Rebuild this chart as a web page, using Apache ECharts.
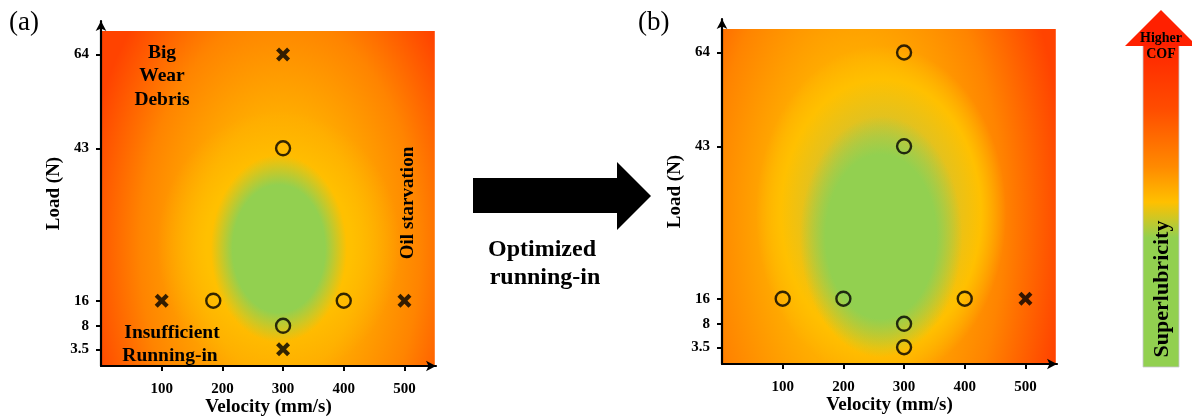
<!DOCTYPE html>
<html>
<head>
<meta charset="utf-8">
<script src="https://cdn.jsdelivr.net/npm/echarts@6/dist/echarts.min.js"></script>
<style>
  html, body { margin: 0; padding: 0; background: #fff; }
  #chart { width: 1192px; height: 416px; }
</style>
</head>
<body>
<div id="chart"></div>
<script>
// axis ticks
const velocityTicks = [100, 200, 300, 400, 500];
const loadValues = [3.5, 8, 16, 43, 64];
// load steps are not evenly spaced in the figure: axis level of each step
const loadLevels = [5, 12, 19.5, 65, 93];

// test points [velocity, load]
const beforeGood = [[300, 43], [185, 16], [400, 16], [300, 8]];
const beforeFail = [[300, 64], [100, 16], [500, 16], [300, 3.5]];
const afterGood = [[300, 64], [300, 43], [100, 16], [200, 16], [400, 16], [300, 8], [300, 3.5]];
const afterFail = [[500, 16]];

// COF map, as ellipses [velocity, level, velocity radius, level radius]
const beforeField = [295, 35.5, 330, 98];
const beforeHalo = [293, 36, 200, 40];
const beforeCore = [293, 35, 112, 28];
const afterField = [222, 43, 346, 120];
const afterHalo = [262, 45, 206, 50];
const afterCore = [262, 38, 134, 36];

const velocityMax = 550;
const levelMax = 100;

const serif = '"Liberation Serif", "Times New Roman", serif';
const chart = echarts.init(document.getElementById('chart'));

const level = v => loadLevels[loadValues.indexOf(v)];
const toPoints = arr => arr.map(p => [p[0], level(p[1])]);

const fieldStops = [
  { offset: 0, color: '#ffc000' },
  { offset: 0.4, color: '#ffac00' },
  { offset: 0.7, color: '#ff8400' },
  { offset: 1, color: '#ff4300' }
];
const haloStopsA = [
  { offset: 0, color: '#ffc000' },
  { offset: 0.6, color: '#ffc000' },
  { offset: 1, color: 'rgba(255,184,0,0)' }
];
const haloStopsB = [
  { offset: 0, color: '#c2c840' },
  { offset: 0.45, color: '#d2c330' },
  { offset: 0.8, color: '#ffc000' },
  { offset: 1, color: 'rgba(255,192,0,0)' }
];
const coreStops = [
  { offset: 0, color: '#92d050' },
  { offset: 0.68, color: '#92d050' },
  { offset: 1, color: 'rgba(146,208,80,0)' }
];

// rect over the whole map, filled with an elliptical radial gradient
function mapLayer(stops) {
  return function (params, api) {
    const p0 = api.coord([0, levelMax]);
    const p1 = api.coord([velocityMax, 0]);
    const left = p0[0], top = p0[1];
    const W = p1[0] - p0[0], H = p1[1] - p0[1];
    const c = api.coord([api.value(0), api.value(1)]);
    const sz = api.size([api.value(2) * 2, api.value(3) * 2]);
    const rx = sz[0] / 2, ry = sz[1] / 2;
    const sy = ry / rx;
    const hl = H / sy;
    const cyl = top + (c[1] - top) / sy;
    const m = Math.min(W, hl);
    return {
      type: 'rect',
      shape: { x: left, y: top, width: W, height: hl },
      originX: left,
      originY: top,
      scaleY: sy,
      style: {
        fill: new echarts.graphic.RadialGradient((c[0] - left) / W, (cyl - top) / hl, rx / m, stops)
      }
    };
  };
}

function velAxis(gi) {
  return {
    type: 'value', gridIndex: gi, min: 0, max: 552,
    name: 'Velocity (mm/s)', nameLocation: 'middle', nameGap: 32, nameMoveOverlap: false,
    nameTextStyle: { fontFamily: serif, fontWeight: 'bold', fontSize: 19, color: '#000' },
    axisLine: { show: true, onZero: false, symbol: ['none', 'arrow'], symbolSize: [8, 10], lineStyle: { color: '#000', width: 2.2 } },
    axisTick: { show: true, length: 5, customValues: velocityTicks, lineStyle: { color: '#000', width: 2 } },
    axisLabel: { customValues: velocityTicks, margin: 16, fontFamily: serif, fontWeight: 'bold', fontSize: 15, color: '#000' },
    splitLine: { show: false },
    z: 10
  };
}

function loadAxis(gi) {
  return {
    type: 'value', gridIndex: gi, min: 0, max: 103,
    name: 'Load (N)', nameLocation: 'middle', nameGap: 37, nameRotate: 90, nameMoveOverlap: false,
    nameTextStyle: { fontFamily: serif, fontWeight: 'bold', fontSize: 19, color: '#000' },
    axisLine: { show: true, onZero: false, symbol: ['none', 'arrow'], symbolSize: [8, 10], lineStyle: { color: '#000', width: 2.2 } },
    axisTick: { show: true, length: 5, customValues: loadLevels, lineStyle: { color: '#000', width: 2 } },
    axisLabel: {
      customValues: loadLevels, margin: 12, fontFamily: serif, fontWeight: 'bold', fontSize: 15, color: '#000',
      formatter: v => String(loadValues[loadLevels.indexOf(v)])
    },
    splitLine: { show: false },
    z: 10
  };
}

const crossPath = 'path://M0,3 L3,0 L7,4 L11,0 L14,3 L10,7 L14,11 L11,14 L7,10 L3,14 L0,11 L4,7 Z';

function goodSeries(gi, data) {
  return {
    type: 'scatter', xAxisIndex: gi, yAxisIndex: gi, symbol: 'circle', symbolSize: 14, z: 5,
    itemStyle: { color: 'rgba(0,0,0,0)', borderColor: '#000', borderWidth: 2.4 },
    data: toPoints(data)
  };
}
function failSeries(gi, data) {
  return {
    type: 'scatter', xAxisIndex: gi, yAxisIndex: gi, symbol: crossPath, symbolSize: 14, z: 5,
    itemStyle: { color: '#000' },
    data: toPoints(data)
  };
}
function layerSeries(gi, item, stops) {
  return {
    type: 'custom', xAxisIndex: gi, yAxisIndex: gi, silent: true, z: 1,
    renderItem: mapLayer(stops), data: [item]
  };
}

function arrow(x1, y1, x2, y2) {
  const a = Math.atan2(y2 - y1, x2 - x1);
  const hl = 8, hw = 3.5;
  const bx = x2 - hl * Math.cos(a), by = y2 - hl * Math.sin(a);
  const px = -Math.sin(a) * hw, py = Math.cos(a) * hw;
  return {
    type: 'group', z: 100,
    children: [
      { type: 'line', shape: { x1, y1, x2: bx, y2: by }, style: { stroke: '#000', lineWidth: 1.8 } },
      { type: 'polygon', shape: { points: [[x2, y2], [bx + px, by + py], [bx - px, by - py]] }, style: { fill: '#000' } }
    ]
  };
}
function label(text, x, y, size, extra) {
  return Object.assign({
    type: 'text', x, y, z: 100,
    style: {
      text, fill: '#000', align: 'center', verticalAlign: 'middle',
      fontFamily: serif, fontWeight: 'bold', fontSize: size, lineHeight: size * 1.22
    }
  }, extra || {});
}

const barGradient = new echarts.graphic.LinearGradient(0, 0, 0, 1, [
  { offset: 0, color: '#ff2400' },
  { offset: 0.2, color: '#ff4c00' },
  { offset: 0.38, color: '#ff8a00' },
  { offset: 0.49, color: '#ffc000' },
  { offset: 0.6, color: '#92d050' },
  { offset: 1, color: '#92d050' }
]);

chart.setOption({
  animation: false,
  backgroundColor: '#fff',
  grid: [
    { left: 101, top: 21, width: 335, height: 345, outerBoundsMode: 'none' },
    { left: 722, top: 19, width: 335, height: 345, outerBoundsMode: 'none' }
  ],
  xAxis: [velAxis(0), velAxis(1)],
  yAxis: [loadAxis(0), loadAxis(1)],
  series: [
    layerSeries(0, beforeField, fieldStops),
    layerSeries(0, beforeHalo, haloStopsA),
    layerSeries(0, beforeCore, coreStops),
    goodSeries(0, beforeGood),
    failSeries(0, beforeFail),
    layerSeries(1, afterField, fieldStops),
    layerSeries(1, afterHalo, haloStopsB),
    layerSeries(1, afterCore, coreStops),
    goodSeries(1, afterGood),
    failSeries(1, afterFail)
  ],
  graphic: [
    { type: 'text', x: 9, y: 9, z: 100, style: { text: '(a)', fontFamily: serif, fontSize: 27, fill: '#000' } },
    { type: 'text', x: 638, y: 9, z: 100, style: { text: '(b)', fontFamily: serif, fontSize: 27, fill: '#000' } },
    // panel (a) notes
    label('Big\nWear\nDebris', 162, 76, 19.5, { style: { text: 'Big\nWear\nDebris', fill: '#000', align: 'center', verticalAlign: 'middle', fontFamily: serif, fontWeight: 'bold', fontSize: 19.5, lineHeight: 23.5 } }),
    arrow(204, 59, 257, 59),
    arrow(162, 142, 162, 269),
    arrow(162, 322, 162, 309),
    label('Insufficient', 172, 333, 19.5),
    label('Running-in', 170, 356, 19.5),
    arrow(240, 350, 273, 350),
    label('Oil starvation', 408, 203, 19, { rotation: Math.PI / 2 }),
    arrow(406, 264, 406, 287),
    // big arrow
    {
      type: 'polygon', z: 100,
      shape: { points: [[473, 178], [617, 178], [617, 162], [651, 196], [617, 230], [617, 213], [473, 213]] },
      style: { fill: '#000' }
    },
    label('Optimized', 542, 250, 24),
    label('running-in', 545, 278, 24),
    // COF scale arrow
    { type: 'rect', z: 100, shape: { x: 1143, y: 44, width: 36, height: 323 }, style: { fill: barGradient, stroke: '#c8c8d0', lineWidth: 0.8 } },
    { type: 'polygon', z: 100, shape: { points: [[1125, 46], [1161, 10], [1197, 46]] }, style: { fill: '#ff2000' } },
    label('Higher', 1161, 38, 14),
    label('COF', 1161, 54, 14),
    label('Superlubricity', 1162, 289, 22, { rotation: Math.PI / 2 })
  ]
});
</script>
</body>
</html>
